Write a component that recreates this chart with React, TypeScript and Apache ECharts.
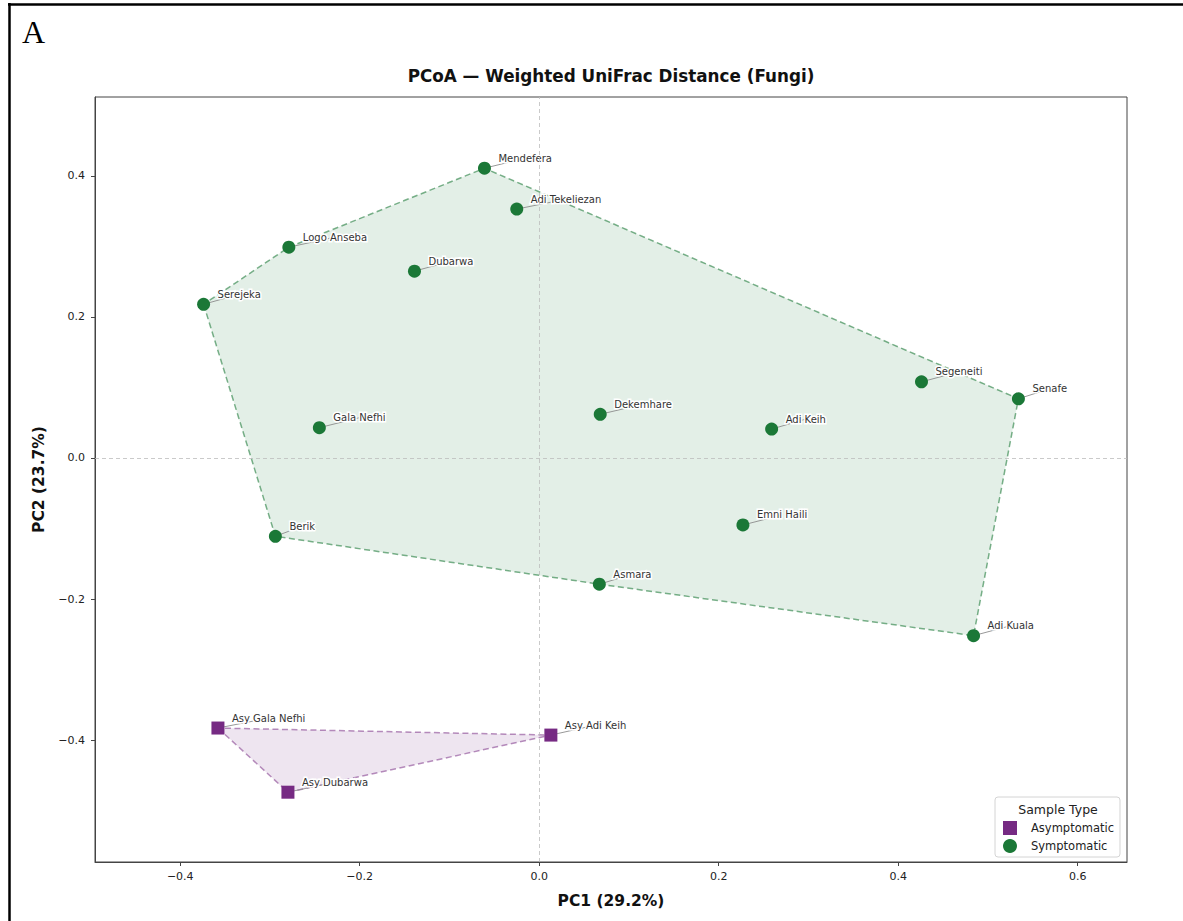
import React, { useEffect, useRef } from "react";
import * as echarts from "echarts";

// Site scores on the first two principal coordinates
const symptomaticSites = [
  "Mendefera",
  "Adi Tekeliezan",
  "Logo Anseba",
  "Dubarwa",
  "Serejeka",
  "Gala Nefhi",
  "Dekemhare",
  "Adi Keih",
  "Segeneiti",
  "Senafe",
  "Emni Haili",
  "Berik",
  "Asmara",
  "Adi Kuala",
];
const symptomaticPC1 = [-0.061, -0.025, -0.279, -0.139, -0.374, -0.245, 0.068, 0.259, 0.426, 0.534, 0.227, -0.294, 0.067, 0.484];
const symptomaticPC2 = [0.411, 0.353, 0.299, 0.265, 0.218, 0.043, 0.062, 0.041, 0.108, 0.084, -0.095, -0.111, -0.179, -0.252];

const asymptomaticSites = ["Asy Gala Nefhi", "Asy Adi Keih", "Asy Dubarwa"];
const asymptomaticPC1 = [-0.358, 0.013, -0.28];
const asymptomaticPC2 = [-0.383, -0.393, -0.474];

const xTicks = [-0.4, -0.2, 0, 0.2, 0.4, 0.6];
const yTicks = [-0.4, -0.2, 0, 0.2, 0.4];

const xLabel = "PC1 (29.2%)";
const yLabel = "PC2 (23.7%)";
const chartTitle = "PCoA \u2014 Weighted UniFrac Distance (Fungi)";
const legendTitle = "Sample Type";
const panelLetter = "A";

const GREEN = "#1b7837";
const PURPLE = "#762a83";
const FONT = "'DejaVu Sans', 'Noto Sans', sans-serif";
const LABEL_FONT = "10px 'DejaVu Sans', sans-serif";

type Pt = number[];

function convexHull(points: Pt[]): Pt[] {
  const p = points.slice().sort((a, b) => a[0] - b[0] || a[1] - b[1]);
  const cross = (o: Pt, a: Pt, b: Pt) => (a[0] - o[0]) * (b[1] - o[1]) - (a[1] - o[1]) * (b[0] - o[0]);
  const lower: Pt[] = [];
  for (const q of p) {
    while (lower.length >= 2 && cross(lower[lower.length - 2], lower[lower.length - 1], q) <= 0) lower.pop();
    lower.push(q);
  }
  const upper: Pt[] = [];
  for (let i = p.length - 1; i >= 0; i--) {
    const q = p[i];
    while (upper.length >= 2 && cross(upper[upper.length - 2], upper[upper.length - 1], q) <= 0) upper.pop();
    upper.push(q);
  }
  upper.pop();
  lower.pop();
  return lower.concat(upper);
}

let measureCtx: CanvasRenderingContext2D | null = null;
function textWidth(s: string): number {
  if (!measureCtx) {
    measureCtx = document.createElement("canvas").getContext("2d");
  }
  if (!measureCtx) return s.length * 6;
  measureCtx.font = LABEL_FONT;
  return measureCtx.measureText(s).width;
}

const fmtTick = (v: number) => (v < -1e-9 ? "\u2212" : "") + Math.abs(v).toFixed(1);

export default function App() {
  const ref = useRef<HTMLDivElement>(null);

  useEffect(() => {
    if (!ref.current) return;
    const chart = echarts.init(ref.current, undefined, { renderer: "svg" });

    const sympPts = symptomaticPC1.map((x, i) => [x, symptomaticPC2[i]]);
    const asymPts = asymptomaticPC1.map((x, i) => [x, asymptomaticPC2[i]]);
    const hulls = [
      { pts: convexHull(sympPts), fill: "rgba(27,120,55,0.12)", stroke: "rgba(27,120,55,0.58)" },
      { pts: convexHull(asymPts), fill: "rgba(118,42,131,0.12)", stroke: "rgba(118,42,131,0.52)" },
    ];

    const allPts = [...sympPts, ...asymPts];
    const allNames = [...symptomaticSites, ...asymptomaticSites];
    const dxLabel = 14;
    const dyLabel = -10;

    const option: any = {
      animation: false,
      backgroundColor: "#ffffff",
      textStyle: { fontFamily: FONT },
      grid: {
        left: 95,
        right: 56,
        top: 97,
        bottom: 59,
        show: true,
        borderColor: "#444",
        borderWidth: 1,
        backgroundColor: "transparent",
        containLabel: false,
        outerBoundsMode: "none",
      },
      xAxis: {
        type: "value",
        min: -0.495,
        max: 0.655,
        name: xLabel,
        nameLocation: "middle",
        nameGap: 31,
        nameTextStyle: { fontSize: 15.5, fontWeight: "bold", color: "#111", fontFamily: FONT },
        axisLine: { show: true, onZero: false, lineStyle: { color: "#444", width: 1 } },
        axisTick: { show: true, length: 4, customValues: xTicks, lineStyle: { color: "#444" } },
        axisLabel: {
          customValues: xTicks,
          formatter: fmtTick,
          fontSize: 11,
          color: "#222",
          margin: 9,
          fontFamily: FONT,
        },
        splitLine: { show: false },
      },
      yAxis: {
        type: "value",
        min: -0.573,
        max: 0.512,
        name: yLabel,
        nameLocation: "middle",
        nameGap: 46,
        nameRotate: 90,
        nameTextStyle: { fontSize: 15.5, fontWeight: "bold", color: "#111", fontFamily: FONT },
        axisLine: { show: true, onZero: false, lineStyle: { color: "#444", width: 1 } },
        axisTick: { show: true, length: 4, customValues: yTicks, lineStyle: { color: "#444" } },
        axisLabel: {
          customValues: yTicks,
          formatter: fmtTick,
          fontSize: 11,
          color: "#222",
          margin: 10,
          fontFamily: FONT,
        },
        splitLine: { show: false },
      },
      legend: {
        data: ["Asymptomatic", "Symptomatic"],
        orient: "vertical",
        left: 995,
        top: 797,
        padding: [24, 6, 4, 8],
        itemWidth: 14,
        itemHeight: 14,
        itemGap: 4,
        borderColor: "#d4d4d4",
        borderWidth: 1,
        borderRadius: 3,
        backgroundColor: "rgba(255,255,255,0.85)",
        selectedMode: false,
        textStyle: { fontSize: 11.5, color: "#222", fontFamily: FONT, padding: [0, 0, 0, 9] },
      },
      graphic: [
        {
          type: "line",
          silent: true,
          shape: { x1: 9.5, y1: 3, x2: 9.5, y2: 921 },
          style: { stroke: "#000", lineWidth: 2.5 },
        },
        {
          type: "line",
          silent: true,
          shape: { x1: 8, y1: 4.5, x2: 1183, y2: 4.5 },
          style: { stroke: "#000", lineWidth: 2.5 },
        },
        {
          type: "text",
          silent: true,
          x: 22,
          y: 32,
          style: {
            text: panelLetter,
            font: "32px 'Liberation Serif', 'DejaVu Serif', serif",
            fill: "#000",
            align: "left",
            textAlign: "left",
            verticalAlign: "middle",
            textVerticalAlign: "middle",
          },
        },
        {
          type: "text",
          silent: true,
          x: 611,
          y: 76,
          style: {
            text: chartTitle,
            font: "bold 16.8px 'DejaVu Sans', sans-serif",
            fill: "#111",
            align: "center",
            textAlign: "center",
            verticalAlign: "middle",
            textVerticalAlign: "middle",
          },
        },
        {
          type: "text",
          silent: true,
          z: 100,
          x: 1058,
          y: 809,
          style: {
            text: legendTitle,
            font: "12.5px 'DejaVu Sans', sans-serif",
            fill: "#222",
            align: "center",
            textAlign: "center",
            verticalAlign: "middle",
            textVerticalAlign: "middle",
          },
        },
      ],
      series: [
        {
          // group envelopes
          type: "custom",
          coordinateSystem: "cartesian2d",
          silent: true,
          z: 1,
          data: hulls.map(() => [0, 0]),
          encode: { x: 0, y: 1 },
          renderItem: (params: any, api: any) => {
            const h = hulls[params.dataIndex];
            const pts = h.pts.map((p) => api.coord(p));
            return {
              type: "polygon",
              shape: { points: pts },
              style: { fill: h.fill, stroke: h.stroke, lineWidth: 1.5, lineDash: [6, 3.5] },
            };
          },
        },
        {
          // leader lines from each site to its label
          type: "custom",
          coordinateSystem: "cartesian2d",
          silent: true,
          z: 2,
          data: allPts,
          encode: { x: 0, y: 1 },
          renderItem: (params: any, api: any) => {
            const c = api.coord([api.value(0), api.value(1)]);
            const w = textWidth(allNames[params.dataIndex]);
            return {
              type: "line",
              shape: { x1: c[0], y1: c[1], x2: c[0] + dxLabel + w / 2, y2: c[1] + dyLabel },
              style: { stroke: "#8c8c8c", lineWidth: 0.9 },
            };
          },
        },
        {
          name: "Symptomatic",
          type: "scatter",
          z: 3,
          symbol: "circle",
          symbolSize: 13,
          itemStyle: { color: GREEN, opacity: 1 },
          data: sympPts,
          markLine: {
            silent: true,
            symbol: ["none", "none"],
            label: { show: false },
            lineStyle: { type: [4, 3], color: "#bdbdbd", width: 0.8 },
            data: [{ xAxis: 0 }, { yAxis: 0 }],
          },
        },
        {
          name: "Asymptomatic",
          type: "scatter",
          z: 3,
          symbol: "rect",
          symbolSize: 13,
          itemStyle: { color: PURPLE, opacity: 1 },
          data: asymPts,
        },
        {
          // site labels with a white halo
          type: "custom",
          coordinateSystem: "cartesian2d",
          silent: true,
          z: 4,
          data: allPts,
          encode: { x: 0, y: 1 },
          renderItem: (params: any, api: any) => {
            const c = api.coord([api.value(0), api.value(1)]);
            return {
              type: "text",
              x: c[0] + dxLabel,
              y: c[1] + dyLabel,
              style: {
                text: allNames[params.dataIndex],
                font: LABEL_FONT,
                fill: "#333",
                stroke: "#ffffff",
                lineWidth: 3,
                align: "left",
                textAlign: "left",
                verticalAlign: "middle",
                textVerticalAlign: "middle",
              },
            };
          },
        },
      ],
    };

    chart.setOption(option);
    return () => chart.dispose();
  }, []);

  return (
    <div style={{ position: "fixed", left: 0, top: 0, width: 1183, height: 921, background: "#fff" }}>
      <div ref={ref} style={{ width: 1183, height: 921 }} />
    </div>
  );
}
